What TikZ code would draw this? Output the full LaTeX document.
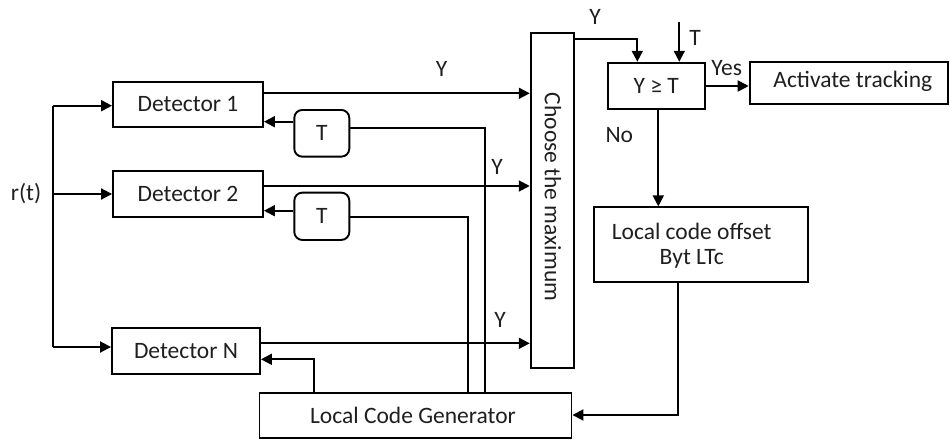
\documentclass[tikz,border=0pt]{standalone}
\usepackage{fontspec}
\setmainfont{Carlito}
\usetikzlibrary{arrows.meta}
\begin{document}
\begin{tikzpicture}[x=1pt,y=-1pt,
  every node/.style={font=\fontsize{23.5}{27}\selectfont, text=black!88},
  box/.style={draw, line width=1.9pt, inner sep=0pt, minimum width=#1},
  rbox/.style={draw, line width=1.9pt, inner sep=0pt, rounded corners=8pt},
  ln/.style={line width=1.9pt},
  arr/.style={line width=1.9pt, -{Triangle[length=11pt,width=11pt]}},
  lbl/.style={inner sep=0pt}
]
\useasboundingbox (0,0) rectangle (950,439);
% boxes
\node[box=150, minimum height=45] (det1) at (188,104.5) {Detector 1};
\node[box=150, minimum height=46] (det2) at (188,193.7) {Detector 2};
\node[box=148, minimum height=46] (detN) at (186,351) {Detector N};
\node[rbox, minimum width=55, minimum height=46.7] (t1) at (321.8,133.3) {T};
\node[rbox, minimum width=55, minimum height=47.3] (t2) at (321.8,216.3) {T};
\node[box=312, minimum height=45.6] (lcg) at (415.5,415.5) {};
\node[lbl] (lcgt) at (413,415) {Local Code Generator};
\node[box=43.6, minimum height=335] (max) at (552.5,200.8) {};
\node[lbl, rotate=-90] (maxt) at (553,197) {Choose the maximum};
\node[box=97, minimum height=46] (yt) at (656.3,85.7) {Y ≥ T};
\node[box=198.7, minimum height=42] (act) at (849,83.3) {};
\node[lbl] (actt) at (852.8,81.7) {Activate tracking};
\node[box=214, minimum height=74.4] (lco) at (701.3,244.5) {};
\node[lbl] (lco1) at (691.7,231.7) {Local code offset};
\node[lbl] (lco2) at (691.7,259.3) {Byt LTc};
% input
\node[lbl] (rt) at (26,194) {r(t)};
\coordinate (s1) at (53.3,105.7);
\coordinate (s2) at (53.3,194);
\coordinate (sN) at (53.3,347);
\draw[ln] (s1) -- (sN);
\draw[arr] (s1) -- (det1.west |- s1);
\draw[arr] (s2) -- (det2.west |- s2);
\draw[arr] (sN) -- (detN.west |- sN);
% detector outputs
\draw[arr] (det1.east |- 0,93.3) -- (max.west |- 0,93.3);
\draw[arr] (det2.east |- 0,186) -- (max.west |- 0,186);
\draw[arr] (detN.east |- 0,343.3) -- (max.west |- 0,343.3);
\node[lbl] (y1) at (441.7,69) {Y};
\node[lbl] (y2) at (497,166.7) {Y};
\node[lbl] (y3) at (500,320) {Y};
% T feedback
\draw[arr] (t1.west |- 0,121.7) -- (det1.east |- 0,121.7);
\draw[arr] (t2.west |- 0,210.7) -- (det2.east |- 0,210.7);
\draw[ln] (t1.east |- 0,127.7) -- (485.3,127.7) -- (lcg.north -| 485.3,0);
\draw[ln] (t2.east |- 0,217.3) -- (467.7,217.3) -- (lcg.north -| 467.7,0);
% LCG to detector N
\draw[arr] (lcg.north -| 314,0) -- (314,359.3) -- (detN.east |- 0,359.3);
% offset to LCG
\draw[arr] (lco.south -| 678.3,0) -- (678.3,415) -- (lcg.east |- 0,415);
% max to comparator
\draw[arr] (max.east |- 0,39) -- (637.3,39) -- (yt.north -| 637.3,0);
\node[lbl] (y4) at (595,16.7) {Y};
\coordinate (tin) at (679.3,21.7);
\draw[arr] (tin) -- (yt.north -| tin);
\node[lbl] (tl) at (695,38) {T};
\draw[arr] (yt.east |- 0,86) -- (act.west |- 0,86);
\node[lbl] (yes) at (726.7,67.7) {Yes};
\draw[arr] (yt.south -| 658.3,0) -- (lco.north -| 658.3,0);
\node[lbl] (no) at (619.3,135) {No};
\end{tikzpicture}
\end{document}
